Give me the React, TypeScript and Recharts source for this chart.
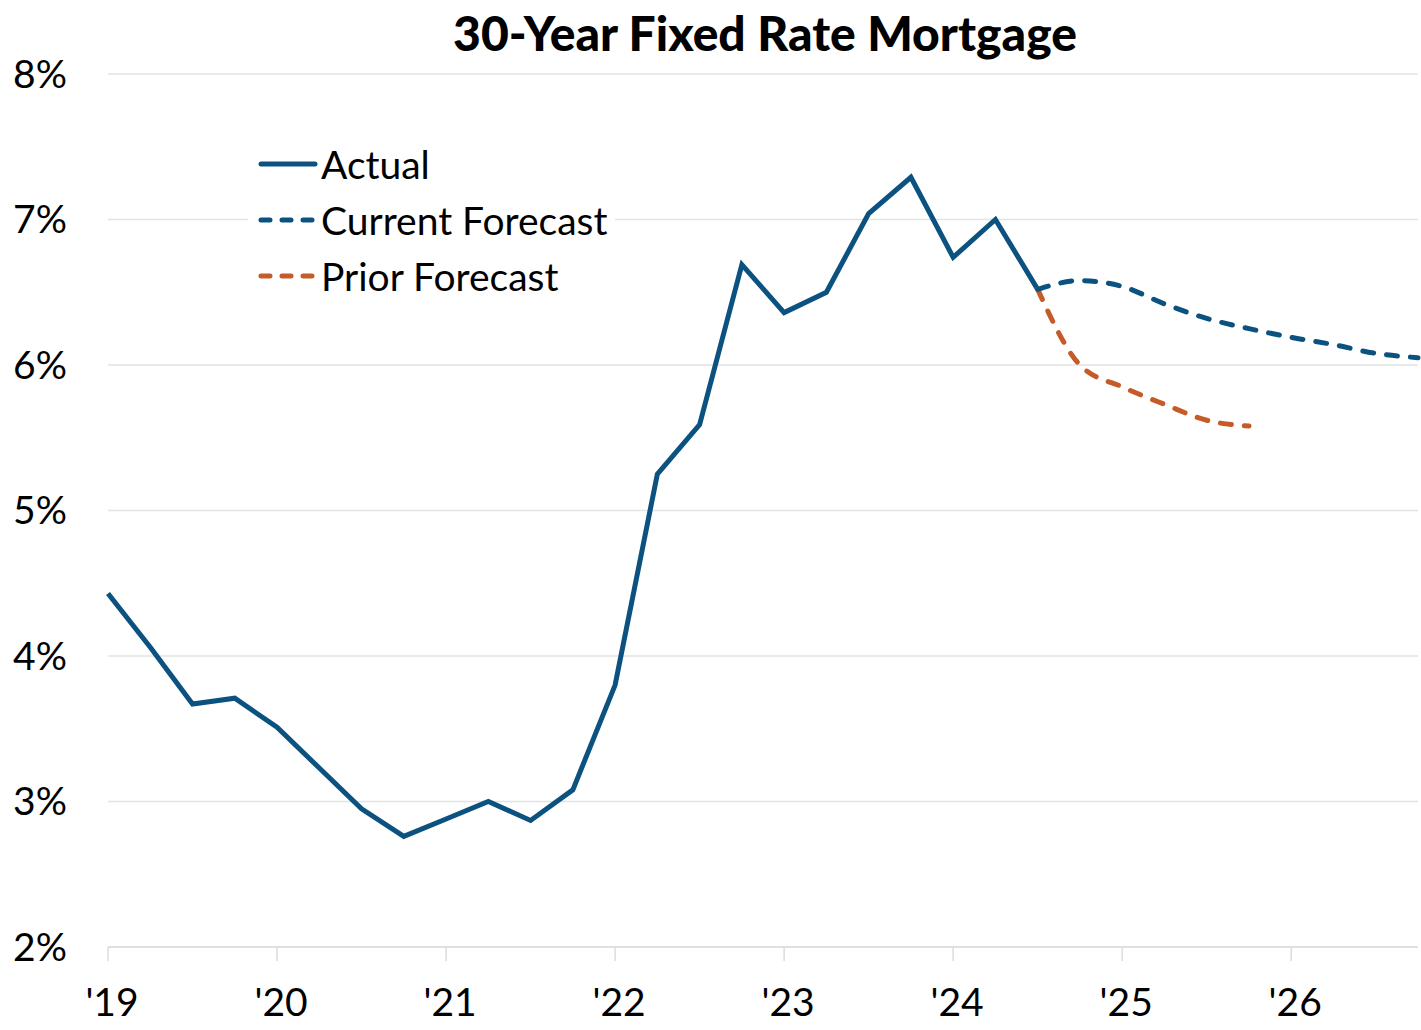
import React from "react";
import { LineChart, Line, XAxis, YAxis, CartesianGrid } from "recharts";

const quarters = [
  "2019Q1", "2019Q2", "2019Q3", "2019Q4",
  "2020Q1", "2020Q2", "2020Q3", "2020Q4",
  "2021Q1", "2021Q2", "2021Q3", "2021Q4",
  "2022Q1", "2022Q2", "2022Q3", "2022Q4",
  "2023Q1", "2023Q2", "2023Q3", "2023Q4",
  "2024Q1", "2024Q2", "2024Q3", "2024Q4",
  "2025Q1", "2025Q2", "2025Q3", "2025Q4",
  "2026Q1", "2026Q2", "2026Q3", "2026Q4",
];

const actual = [
  4.43, 4.06, 3.67, 3.71, 3.51, 3.23, 2.95, 2.76, 2.88, 3.0, 2.87, 3.08,
  3.8, 5.25, 5.59, 6.69, 6.36, 6.5, 7.04, 7.29, 6.74, 7.0, 6.52,
];

const currentForecast = [6.52, 6.58, 6.54, 6.42, 6.32, 6.25, 6.19, 6.14, 6.08, 6.05];
const priorForecast = [6.52, 6.0, 5.85, 5.73, 5.62, 5.58];
const forecastStart = 22;

const yearTicks = [0, 4, 8, 12, 16, 20, 24, 28];
const yearLabels = ["'19", "'20", "'21", "'22", "'23", "'24", "'25", "'26"];
const yTicks = [2, 3, 4, 5, 6, 7, 8];

const NAVY = "#0c5281";
const ORANGE = "#c65a28";
const FONT = 'Lato, "Source Sans Pro", "Open Sans", sans-serif';

const data = quarters.map((q, i) => ({
  i,
  q,
  actual: i < actual.length ? actual[i] : null,
  current:
    i >= forecastStart && i - forecastStart < currentForecast.length
      ? currentForecast[i - forecastStart]
      : null,
  prior:
    i >= forecastStart && i - forecastStart < priorForecast.length
      ? priorForecast[i - forecastStart]
      : null,
}));

const legendItems = [
  { label: "Actual", color: NAVY, dashed: false },
  { label: "Current Forecast", color: NAVY, dashed: true },
  { label: "Prior Forecast", color: ORANGE, dashed: true },
];

export default function App() {
  return (
    <div
      style={{
        position: "relative",
        width: 1421,
        height: 1030,
        overflow: "hidden",
        fontFamily: FONT,
        background: "#fff",
      }}
    >
      <style>{`body{margin:0;}`}</style>
      <LineChart
        width={1421}
        height={1030}
        data={data}
        margin={{ top: 74, right: 3, bottom: 0, left: 0 }}
      >
        <CartesianGrid horizontal vertical={false} stroke="#e3e3e3" strokeWidth={1.5} />
        <XAxis
          dataKey="i"
          type="number"
          domain={[0, 31]}
          ticks={yearTicks}
          tickFormatter={(v) => yearLabels[yearTicks.indexOf(v)] ?? ""}
          height={83}
          axisLine={{ stroke: "#dcdcdc", strokeWidth: 1.5 }}
          tickLine={{ stroke: "#dcdcdc", strokeWidth: 1.5 }}
          tickSize={14}
          tickMargin={27}
          tick={{ fill: "#000", fontSize: 39, fontFamily: FONT, dx: 4 }}
          interval={0}
        />
        <YAxis
          domain={[2, 8]}
          ticks={yTicks}
          tickFormatter={(v) => `${v}%`}
          width={108}
          axisLine={false}
          tickLine={false}
          tickSize={0}
          tickMargin={41}
          tick={{ fill: "#000", fontSize: 39, fontFamily: FONT }}
          interval={0}
        />
        <Line
          type="linear"
          dataKey="actual"
          stroke={NAVY}
          strokeWidth={5}
          dot={false}
          activeDot={false}
          isAnimationActive={false}
          connectNulls={false}
        />
        <Line
          type="monotone"
          dataKey="prior"
          stroke={ORANGE}
          strokeWidth={5}
          strokeDasharray="11 13"
          strokeLinecap="round"
          dot={false}
          activeDot={false}
          isAnimationActive={false}
        />
        <Line
          type="monotone"
          dataKey="current"
          stroke={NAVY}
          strokeWidth={5}
          strokeDasharray="11 13"
          strokeLinecap="round"
          dot={false}
          activeDot={false}
          isAnimationActive={false}
        />
      </LineChart>

      <div
        style={{
          position: "absolute",
          left: 0,
          width: 1530,
          top: 7,
          textAlign: "center",
          fontSize: 48,
          fontWeight: 900,
          lineHeight: "52px",
          color: "#000",
        }}
      >
        30-Year Fixed Rate Mortgage
      </div>

      <div
        style={{
          position: "absolute",
          left: 248,
          top: 136,
          width: 367,
          background: "#fff",
        }}
      >
        {legendItems.map((it) => (
          <div
            key={it.label}
            style={{ display: "flex", alignItems: "center", height: 56 }}
          >
            <svg width={60} height={10} style={{ marginLeft: 10, display: "block" }}>
              <line
                x1={3}
                y1={5}
                x2={57}
                y2={5}
                stroke={it.color}
                strokeWidth={5}
                strokeLinecap="round"
                strokeDasharray={it.dashed ? "9 12" : undefined}
              />
            </svg>
            <span style={{ fontSize: 39, color: "#000", marginLeft: 3, lineHeight: "56px" }}>
              {it.label}
            </span>
          </div>
        ))}
      </div>
    </div>
  );
}
